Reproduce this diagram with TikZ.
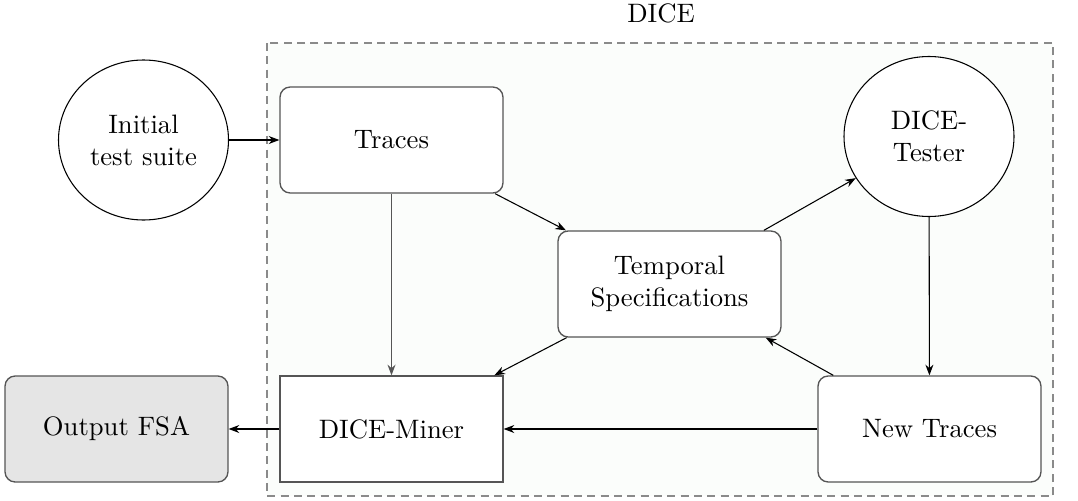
\documentclass[tikz,border=0pt]{standalone}
\usetikzlibrary{shapes.geometric,arrows.meta}
\definecolor{bordergray}{HTML}{555555}
\definecolor{dashgray}{HTML}{8A8A8A}
\definecolor{regionfill}{HTML}{FBFDFB}
\definecolor{outfill}{HTML}{E5E5E5}
\tikzset{
  px/.style={x=0.375pt,y=-0.375pt},
  rbox/.style={draw=bordergray,line width=0.5pt,rounded corners=3.8pt,fill=white,minimum width=83.6pt,minimum height=39.75pt,align=center,inner sep=2pt},
  sbox/.style={draw=bordergray,line width=0.5pt,fill=white,minimum width=83.6pt,minimum height=39.75pt,align=center,inner sep=2pt},
  circ/.style={draw=black,line width=0.4pt,ellipse,fill=white,minimum width=63.75pt,minimum height=60pt,inner sep=0pt,align=center},
  conn/.style={-{Stealth[length=4pt,width=3pt]},line width=0.4pt,black},
  gconn/.style={-{Stealth[length=4pt,width=3pt]},line width=0.5pt,bordergray},
}
\begin{document}
\begin{tikzpicture}[px]
\useasboundingbox (0,0) rectangle (1078,500);
\draw[dashgray,line width=0.8pt,dash pattern=on 3pt off 2pt,fill=regionfill] (267,43) rectangle (1053,496);
\node (dice) at (661,13) {DICE};
\node[circ] (init) at (143.5,140) {Initial\\test suite};
\node[rbox] (traces) at (391.5,140) {Traces};
\node[circ] (tester) at (929,136.5) {DICE-\\Tester};
\node[rbox] (temporal) at (669.5,284) {Temporal\\Specifications};
\node[sbox] (miner) at (391.5,429) {DICE-Miner};
\node[rbox] (newtr) at (929.5,429) {New Traces};
\node[rbox,fill=outfill] (output) at (116.5,429) {Output FSA};
\draw[conn] (init) -- (traces);
\draw[gconn] (traces) -- (miner);
\draw[conn] (traces) -- (temporal);
\draw[conn] (temporal) -- (tester);
\draw[conn] (tester) -- (newtr);
\draw[conn] (newtr) -- (temporal);
\draw[conn] (temporal) -- (miner);
\draw[conn] (newtr) -- (miner);
\draw[conn] (miner) -- (output);
\end{tikzpicture}
\end{document}
